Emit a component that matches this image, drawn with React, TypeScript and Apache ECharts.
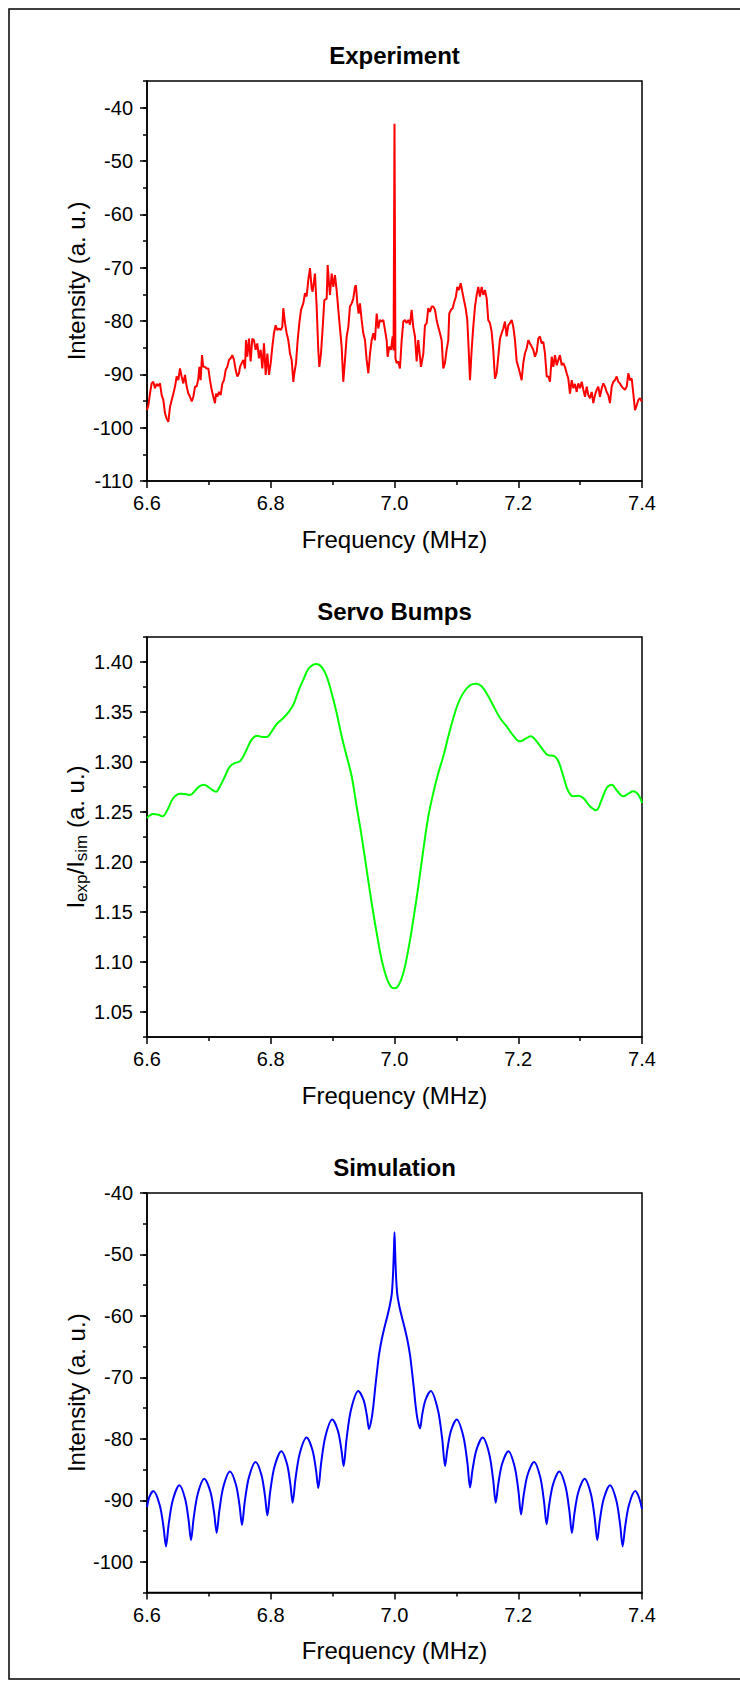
import React, { useEffect, useRef } from "react";
import * as echarts from "echarts";

const panelTitles = ["Experiment", "Servo Bumps", "Simulation"];
const freqName = "Frequency (MHz)";
const intensityName = "Intensity (a. u.)";
const ratioName = "{m|I}{s|exp}{m|/I}{s|sim}{m| (a. u.)}";

const expTicks = [-110, -100, -90, -80, -70, -60, -50, -40];
const servoTicks = [1.05, 1.1, 1.15, 1.2, 1.25, 1.3, 1.35, 1.4];
const simTicks = [-100, -90, -80, -70, -60, -50, -40];

const expFreq = [
  6.6000, 6.6022, 6.6048, 6.6075, 6.6102, 6.6129, 6.6156, 6.6183, 6.6210, 6.6237,
  6.6264, 6.6291, 6.6318, 6.6345, 6.6372, 6.6399, 6.6426, 6.6453, 6.6479, 6.6506,
  6.6533, 6.6560, 6.6587, 6.6614, 6.6641, 6.6668, 6.6695, 6.6722, 6.6749, 6.6776,
  6.6803, 6.6830, 6.6846, 6.6867, 6.6889, 6.6910, 6.6937, 6.6964, 6.6991, 6.7018,
  6.7045, 6.7072, 6.7099, 6.7115, 6.7137, 6.7164, 6.7191, 6.7218, 6.7244, 6.7271,
  6.7298, 6.7325, 6.7352, 6.7379, 6.7406, 6.7433, 6.7460, 6.7487, 6.7503, 6.7530,
  6.7557, 6.7584, 6.7600, 6.7621, 6.7648, 6.7675, 6.7702, 6.7729, 6.7756, 6.7783,
  6.7810, 6.7837, 6.7864, 6.7891, 6.7918, 6.7945, 6.7972, 6.7999, 6.8026, 6.8052,
  6.8079, 6.8106, 6.8133, 6.8160, 6.8187, 6.8203, 6.8230, 6.8257, 6.8284, 6.8311,
  6.8338, 6.8365, 6.8381, 6.8408, 6.8435, 6.8462, 6.8489, 6.8526, 6.8553, 6.8580,
  6.8607, 6.8634, 6.8661,
  6.8677, 6.8715, 6.8742, 6.8768, 6.8785, 6.8812, 6.8840, 6.8866, 6.8904, 6.8920,
  6.8941, 6.8957, 6.8985, 6.9011, 6.9038, 6.9065, 6.9092, 6.9119, 6.9146, 6.9172,
  6.9200, 6.9227, 6.9254, 6.9280, 6.9308, 6.9334, 6.9361, 6.9377, 6.9399, 6.9421,
  6.9442, 6.9469, 6.9496, 6.9523, 6.9550, 6.9577, 6.9604, 6.9631, 6.9657, 6.9684,
  6.9712, 6.9738, 6.9765, 6.9792, 6.9819, 6.9846, 6.9873, 6.9889, 6.9915, 6.9943,
  6.9970, 6.9985, 7.0000, 7.0015, 7.0034, 7.0060, 7.0088,
  7.0116, 7.0142, 7.0169, 7.0196, 7.0223, 7.0250, 7.0277, 7.0303, 7.0331, 7.0358,
  7.0384, 7.0428, 7.0466, 7.0492, 7.0520, 7.0546, 7.0573, 7.0600, 7.0627, 7.0654,
  7.0681, 7.0707, 7.0735, 7.0762, 7.0788, 7.0815, 7.0842, 7.0869, 7.0885, 7.0913,
  7.0940, 7.0966, 7.0993, 7.1015, 7.1042, 7.1070, 7.1096, 7.1123, 7.1150, 7.1176,
  7.1199, 7.1220, 7.1247, 7.1273, 7.1301, 7.1328, 7.1354, 7.1381, 7.1409, 7.1435,
  7.1462, 7.1490, 7.1515, 7.1543, 7.1570, 7.1596, 7.1624, 7.1651, 7.1677, 7.1705,
  7.1732, 7.1758, 7.1785, 7.1813, 7.1839, 7.1866, 7.1894, 7.1920, 7.1947, 7.1975,
  7.2001, 7.2028, 7.2055, 7.2081, 7.2108, 7.2136, 7.2162, 7.2189, 7.2217, 7.2243,
  7.2270, 7.2298, 7.2324, 7.2351, 7.2379, 7.2405, 7.2432, 7.2460, 7.2486, 7.2513,
  7.2541, 7.2567, 7.2594, 7.2621, 7.2648, 7.2674, 7.2702, 7.2728, 7.2755, 7.2783,
  7.2809, 7.2836, 7.2864, 7.2890, 7.2917, 7.2945, 7.2970, 7.2998, 7.3026, 7.3052,
  7.3079, 7.3106, 7.3132, 7.3159, 7.3187, 7.3213, 7.3240, 7.3268, 7.3294, 7.3321,
  7.3349, 7.3375, 7.3402, 7.3429, 7.3455, 7.3482, 7.3510, 7.3536, 7.3563, 7.3591,
  7.3617, 7.3644, 7.3672, 7.3698, 7.3725, 7.3753, 7.3779, 7.3806, 7.3834, 7.3860,
  7.3887, 7.3915, 7.3941, 7.3968, 7.3996,
];

const expIntensity = [
  -96.7, -95.8, -93.6, -91.7, -91.4, -92.6, -91.8, -92.2, -91.7, -93.9,
  -94.8, -97.3, -98.3, -98.9, -96.1, -94.8, -93.6, -92.3, -90.4, -91.1,
  -88.9, -90.4, -91.7, -90.1, -92.3, -93.6, -94.2, -95.1, -94.2, -92.3,
  -92.3, -90.8, -88.6, -91.1, -86.4, -88.6, -88.6, -88.9, -88.9, -91.1,
  -92.9, -94.2, -95.4, -93.6, -94.2, -93.3, -93.9, -91.7, -91.1, -89.2,
  -88.6, -87.3, -87.0, -86.4, -87.3, -89.2, -90.4, -89.8, -88.6, -87.9,
  -87.3, -88.9, -83.6, -86.7, -83.3, -87.6, -83.3, -83.6, -85.4, -84.2,
  -87.0, -85.4, -88.9, -84.2, -90.1, -86.1, -90.1, -87.9, -84.8, -82.3,
  -80.8, -81.7, -81.4, -81.7, -81.1, -77.6, -80.4, -82.3, -83.6, -86.1,
  -87.3, -91.4, -89.8, -87.9, -83.6, -80.4, -77.9, -76.7, -74.8, -75.4,
  -72.3, -70.1, -73.9,
  -74.5, -71.1, -77.3, -85.4, -88.6, -86.1, -81.1, -76.1, -75.8, -69.5,
  -72.9, -75.1, -71.1, -73.6, -71.4, -74.2, -77.9, -81.4, -84.8, -91.4,
  -87.3, -82.9, -81.1, -77.3, -76.7, -75.8, -73.6, -73.3, -76.7, -78.6,
  -76.7, -79.8, -82.3, -83.6, -87.3, -89.8, -86.1, -83.6, -82.3, -83.6,
  -78.6, -81.4, -79.8, -80.1, -79.8, -81.7, -83.6, -86.7, -84.8, -85.4,
  -82.9, -85.5, -43.0, -87.0, -87.9, -87.6, -88.9,
  -83.6, -80.1, -79.8, -80.4, -79.8, -80.7, -77.9, -81.1, -82.9, -87.6,
  -83.6, -88.6, -86.1, -80.8, -80.4, -77.6, -78.3, -77.3, -77.3, -77.9,
  -79.8, -81.1, -82.3, -83.6, -88.9, -87.9, -85.4, -83.6, -78.6, -77.9,
  -77.6, -76.4, -75.4, -73.6, -74.2, -72.9, -74.5, -76.1, -77.6, -79.8,
  -85.4, -91.1, -85.4, -81.1, -77.3, -75.1, -73.6, -75.4, -73.6, -75.1,
  -74.2, -75.8, -79.8, -80.4, -82.0, -85.4, -90.8, -89.8, -86.7, -83.3,
  -82.3, -81.4, -80.1, -82.9, -80.8, -80.4, -79.8, -81.1, -83.6, -87.6,
  -88.6, -89.8, -91.1, -87.9, -86.1, -85.1, -83.6, -84.2, -84.8, -85.4,
  -86.7, -85.8, -83.3, -82.9, -84.2, -83.9, -86.1, -90.4, -90.4, -91.4,
  -86.7, -88.6, -86.4, -88.3, -87.3, -86.4, -88.3, -87.9, -88.6, -89.8,
  -90.8, -93.6, -91.1, -92.6, -91.8, -93.3, -91.7, -92.6, -91.4, -92.9,
  -94.2, -92.3, -93.9, -94.5, -93.3, -95.4, -93.9, -92.9, -92.3, -94.2,
  -92.6, -91.7, -92.3, -93.3, -93.9, -95.4, -92.3, -91.4, -91.1, -90.4,
  -91.4, -91.7, -92.3, -92.6, -92.9, -92.3, -89.8, -91.1, -90.8, -93.6,
  -96.7, -95.8, -94.8, -94.5, -95.1,
];

const servoFreq = [
  6.6000, 6.6102, 6.6183, 6.6253, 6.6318, 6.6426, 6.6533, 6.6614, 6.6695, 6.6776,
  6.6846, 6.6921, 6.6991, 6.7072, 6.7115, 6.7180, 6.7261, 6.7341, 6.7422, 6.7503,
  6.7584, 6.7691, 6.7783, 6.7869, 6.7934, 6.8015, 6.8096, 6.8203, 6.8284, 6.8365,
  6.8446, 6.8526, 6.8607, 6.8688, 6.8742, 6.8823, 6.8904, 6.8984, 6.9065, 6.9146,
  6.9227, 6.9308, 6.9388, 6.9469, 6.9550, 6.9631, 6.9712, 6.9792, 6.9873, 6.9938,
  6.9997, 7.0062, 7.0143, 7.0223, 7.0304, 7.0385, 7.0466, 7.0547, 7.0627, 7.0708,
  7.0789, 7.0870, 7.0951, 7.1031, 7.1112, 7.1220, 7.1317, 7.1408, 7.1516, 7.1597,
  7.1705, 7.1812, 7.1920, 7.2028, 7.2109, 7.2200, 7.2297, 7.2405, 7.2486, 7.2567,
  7.2648, 7.2728, 7.2809, 7.2890, 7.2971, 7.3052, 7.3159, 7.3256, 7.3348, 7.3429,
  7.3510, 7.3590, 7.3698, 7.3779, 7.3860, 7.3941, 7.4000,
];

const servoRatio = [
  1.2440, 1.2480, 1.2473, 1.2457, 1.2507, 1.2640, 1.2683, 1.2680, 1.2670, 1.2713,
  1.2757, 1.2773, 1.2750, 1.2713, 1.2703, 1.2757, 1.2857, 1.2957, 1.2990, 1.3007,
  1.3090, 1.3223, 1.3263, 1.3250, 1.3250, 1.3307, 1.3380, 1.3440, 1.3497, 1.3573,
  1.3707, 1.3823, 1.3930, 1.3973, 1.3980, 1.3950, 1.3857, 1.3690, 1.3490, 1.3257,
  1.3057, 1.2857, 1.2557, 1.2257, 1.1923, 1.1590, 1.1290, 1.1023, 1.0840, 1.0757,
  1.0737, 1.0763, 1.0890, 1.1123, 1.1423, 1.1757, 1.2123, 1.2457, 1.2690, 1.2890,
  1.3057, 1.3257, 1.3440, 1.3590, 1.3690, 1.3767, 1.3783, 1.3757, 1.3657, 1.3563,
  1.3440, 1.3357, 1.3263, 1.3207, 1.3230, 1.3257, 1.3207, 1.3117, 1.3067, 1.3063,
  1.3007, 1.2857, 1.2707, 1.2657, 1.2663, 1.2640, 1.2557, 1.2517, 1.2623, 1.2740,
  1.2773, 1.2717, 1.2657, 1.2683, 1.2707, 1.2673, 1.2590,
];

const simFreq = [
  6.6000, 6.6040, 6.6102, 6.6205, 6.6266, 6.6307, 6.6350, 6.6415, 6.6523, 6.6617,
  6.6673, 6.6711, 6.6754, 6.6819, 6.6927, 6.7027, 6.7086, 6.7126, 6.7169, 6.7234,
  6.7341, 6.7438, 6.7496, 6.7535, 6.7579, 6.7646, 6.7756, 6.7851, 6.7907, 6.7945,
  6.7990, 6.8058, 6.8171, 6.8263, 6.8317, 6.8354, 6.8399, 6.8467, 6.8580, 6.8675,
  6.8731, 6.8769, 6.8814, 6.8882, 6.8995, 6.9087, 6.9141, 6.9178, 6.9225, 6.9297,
  6.9415, 6.9502, 6.9553, 6.9588,
  6.9625, 6.9660, 6.9690, 6.9720, 6.9750, 6.9790, 6.9830, 6.9880, 6.9920, 6.9955,
  6.9975, 6.9990, 7.0000, 7.0010, 7.0025, 7.0045, 7.0080, 7.0120, 7.0170, 7.0210,
  7.0250, 7.0280, 7.0310, 7.0340, 7.0375, 7.0412,
  7.0447, 7.0499, 7.0585, 7.0701, 7.0771, 7.0817, 7.0855, 7.0911, 7.1005, 7.1113,
  7.1178, 7.1221, 7.1262, 7.1323, 7.1425, 7.1531, 7.1594, 7.1636, 7.1677, 7.1738,
  7.1840, 7.1943, 7.2004, 7.2045, 7.2087, 7.2150, 7.2255, 7.2357, 7.2417, 7.2458,
  7.2499, 7.2561, 7.2663, 7.2765, 7.2826, 7.2867, 7.2908, 7.2970, 7.3072, 7.3175,
  7.3236, 7.3277, 7.3318, 7.3380, 7.3482, 7.3585, 7.3646, 7.3687, 7.3728, 7.3789,
  7.3891, 7.3950, 7.4000,
];

const simIntensity = [
  -91.1, -89.4, -88.5, -90.75, -94.26, -97.5, -93.92, -90.04, -87.55, -89.79,
  -93.28, -96.5, -92.9, -89.0, -86.5, -88.7, -92.13, -95.3, -91.7, -87.8,
  -85.3, -87.48, -90.87, -94.0, -90.31, -86.31, -83.75, -85.93, -89.32, -92.45,
  -88.69, -84.61, -82.0, -84.1, -87.38, -90.4, -86.58, -82.45, -79.8, -81.85,
  -85.05, -88.0, -83.99, -79.64, -76.85, -78.75, -81.71, -84.45, -80.04, -75.26,
  -72.2, -73.75, -76.17, -78.4,
  -77.0, -74.5, -71.5, -68.8, -66.3, -64.0, -62.2, -60.2, -58.5, -56.5,
  -53.5, -49.5, -46.4, -49.5, -53.5, -56.5, -58.5, -60.2, -62.2, -64.0,
  -66.3, -68.8, -71.5, -74.5, -77.0, -78.3,
  -76.1, -73.72, -72.2, -75.25, -80.01, -84.4, -81.68, -78.74, -76.85, -79.61,
  -83.92, -87.9, -84.98, -81.83, -79.8, -82.45, -86.58, -90.4, -87.38, -84.1,
  -82.0, -84.58, -88.59, -92.3, -89.22, -85.89, -83.75, -86.29, -90.25, -93.9,
  -90.8, -87.45, -85.3, -87.8, -91.7, -95.3, -92.13, -88.7, -86.5, -89.0,
  -92.9, -96.5, -93.28, -89.79, -87.55, -90.04, -93.92, -97.5, -94.26, -90.75,
  -88.5, -89.5, -91.4,
];

const FONT = "'Liberation Sans', Arial, Helvetica, sans-serif";

function zip(xs: number[], ys: number[]) {
  return xs.map((x, i) => [x, ys[i]]);
}

export default function App() {
  const ref = useRef<HTMLDivElement>(null);

  useEffect(() => {
    document.body.style.margin = "0";
    const chart = echarts.init(ref.current!, null, { renderer: "svg" });

    const panels = [
      {
        title: panelTitles[0], top: 81, height: 400, yMin: -110, yMax: -35, step: 5,
        ticks: expTicks, digits: 0, name: intensityName, nameGap: 59,
        data: zip(expFreq, expIntensity), color: "#ff0000", smooth: false as any,
      },
      {
        title: panelTitles[1], top: 637, height: 400, yMin: 1.025, yMax: 1.425, step: 0.025,
        ticks: servoTicks, digits: 2, name: ratioName, nameGap: 57,
        data: zip(servoFreq, servoRatio), color: "#00ff00", smooth: 0.4 as any,
      },
      {
        title: panelTitles[2], top: 1193, height: 399.5, yMin: -105, yMax: -40, step: 5,
        ticks: simTicks, digits: 0, name: intensityName, nameGap: 59,
        data: zip(simFreq, simIntensity), color: "#0000ff", smooth: 0.3 as any,
      },
    ];

    const black = { color: "#000", width: 1.5 };
    const labelStyle = { fontSize: 20, color: "#000", fontFamily: FONT };
    const nameStyle = {
      fontSize: 24, color: "#000", fontFamily: FONT,
      rich: {
        m: { fontSize: 24, color: "#000", fontFamily: FONT },
        s: { fontSize: 17, color: "#000", fontFamily: FONT, verticalAlign: "bottom", padding: [13, 0, 0, 0] },
      },
    };

    const option: any = {
      animation: false,
      backgroundColor: "#fff",
      title: panels.map((p) => ({
        text: p.title,
        left: 394.5,
        top: p.top - 38,
        textAlign: "center",
        padding: 0,
        textStyle: { fontSize: 24, fontWeight: "bold", color: "#000", fontFamily: FONT },
      })),
      grid: panels.map((p) => ({
        left: 147, top: p.top, width: 495, height: p.height,
        show: true, borderColor: "#000", borderWidth: 1.5, backgroundColor: "transparent",
        containLabel: false, outerBoundsMode: "none",
      })),
      xAxis: panels.map((p, i) => ({
        type: "value", gridIndex: i, position: "bottom",
        min: 6.6, max: 7.4, interval: 0.2,
        axisLine: { onZero: false, lineStyle: black },
        axisTick: { length: 7, lineStyle: black },
        minorTick: { show: true, splitNumber: 2, length: 4, lineStyle: black },
        splitLine: { show: false },
        minorSplitLine: { show: false },
        axisLabel: { ...labelStyle, margin: 12, formatter: (v: number) => v.toFixed(1) },
        name: freqName, nameLocation: "middle", nameGap: 46,
        nameTextStyle: { fontSize: 24, color: "#000", fontFamily: FONT },
      })),
      yAxis: panels.flatMap((p, i) => [
        {
          type: "value", gridIndex: i, position: "left",
          min: p.yMin, max: p.yMax, interval: p.step,
          axisLine: { onZero: false, lineStyle: black },
          axisTick: { length: 4, lineStyle: black },
          axisLabel: { show: false },
          splitLine: { show: false },
          name: p.name, nameLocation: "middle", nameGap: p.nameGap,
          nameTextStyle: nameStyle,
        },
        {
          type: "value", gridIndex: i, position: "left",
          min: p.yMin, max: p.yMax,
          axisLine: { show: false, onZero: false },
          axisTick: { show: true, length: 7, lineStyle: black, customValues: p.ticks },
          axisLabel: {
            ...labelStyle, margin: 14, customValues: p.ticks,
            formatter: (v: number) => v.toFixed(p.digits),
          },
          splitLine: { show: false },
        },
      ]),
      series: panels.map((p, i) => ({
        type: "line", xAxisIndex: i, yAxisIndex: 2 * i,
        data: p.data, showSymbol: false, symbol: "none",
        smooth: p.smooth, silent: true,
        lineStyle: { color: p.color, width: 2 },
        itemStyle: { color: p.color },
      })),
      graphic: [
        {
          type: "rect", silent: true,
          shape: { x: 9, y: 9, width: 745, height: 1670 },
          style: { fill: "none", stroke: "#000", lineWidth: 1.5 },
        },
      ],
    };

    chart.setOption(option);
    return () => chart.dispose();
  }, []);

  return <div ref={ref} style={{ width: 740, height: 1687 }} />;
}
